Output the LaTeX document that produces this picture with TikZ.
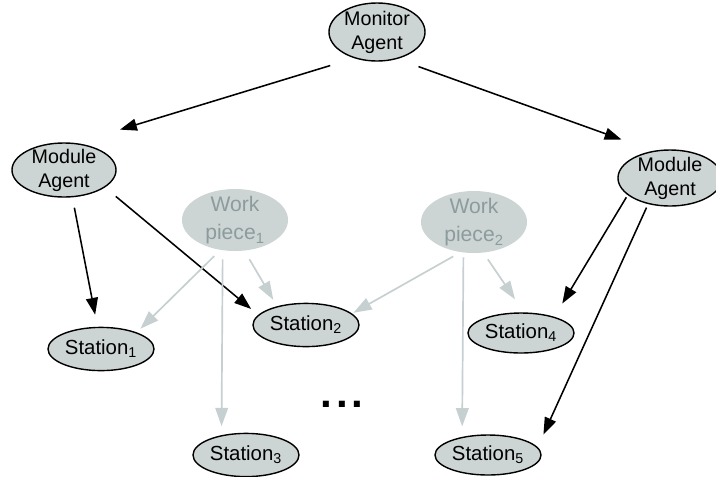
\documentclass[tikz,border=0pt]{standalone}
\usepackage{fontspec}
\setmainfont{Liberation Sans}
\usetikzlibrary{shapes.geometric}
\usetikzlibrary{arrows.meta}
\definecolor{nodefill}{RGB}{205,212,212}
\definecolor{piecetext}{RGB}{140,156,156}
\definecolor{flowcol}{RGB}{198,208,208}
\tikzset{agent/.style = {shape=ellipse,draw,fill=nodefill,line width=1pt,inner xsep=0pt,inner ysep=-2pt,align=center,font=\fontsize{14}{17}\selectfont}}
\tikzset{piece/.style = {shape=ellipse,fill=nodefill,inner xsep=0pt,inner ysep=-3pt,align=center,text=piecetext,font=\fontsize{15}{20.5}\selectfont,minimum width=2.65cm,minimum height=1.55cm}}
\tikzset{station/.style = {shape=ellipse,draw,fill=nodefill,line width=1pt,inner sep=0pt,font=\fontsize{14.5}{17}\selectfont,minimum width=2.65cm,minimum height=1.08cm}}
\tikzset{ctrl/.style = {-{Triangle[length=12pt,width=8.5pt]},line width=1.1pt}}
\tikzset{flow/.style = {-{Triangle[length=13pt,width=9pt]},line width=1.2pt,draw=flowcol}}

\begin{document}
\begin{tikzpicture}[x=0.025cm,y=-0.025cm]
                    \useasboundingbox (0,0) rectangle (716,476);

                    \node[agent,minimum width=2.4cm,minimum height=1.45cm] (Mon) at (377,32) {Monitor\\Agent};
                    \node[agent,minimum width=2.6cm,minimum height=1.35cm] (ModL) at (64,170) {Module\\Agent};
                    \node[agent,minimum width=2.6cm,minimum height=1.4cm] (ModR) at (670,178) {Module\\Agent};

                    \node[piece] (W1) at (235,220) {Work\\piece\textsubscript{1}};
                    \node[piece] (W2) at (474,222) {Work\\piece\textsubscript{2}};

                    \node[station] (S1) at (101,349) {Station\textsubscript{1}};
                    \node[station] (S2) at (306,325) {Station\textsubscript{2}};
                    \node[station] (S3) at (246,455) {Station\textsubscript{3}};
                    \node[station,minimum height=1cm] (S4) at (521,333) {Station\textsubscript{4}};
                    \node[station,minimum height=1cm] (S5) at (488,455) {Station\textsubscript{5}};

                    \node[anchor=base,font=\fontsize{30}{30}\selectfont\bfseries] (dots) at (342,407) {.\hspace{2.5pt}.\hspace{2.5pt}.};

                    \draw[ctrl,shorten <=17.8pt,shorten >=32.7pt] (Mon.229) -- (ModL.66);
                    \draw[ctrl,shorten <=16pt,shorten >=23.8pt] (Mon.307) -- (ModR.122);
                    \draw[ctrl,shorten <=7.5pt,shorten >=8.7pt] (ModL.287) -- (S1.99);
                    \draw[ctrl,shorten <=10pt,shorten >=6.5pt] (ModL.337) -- (S2.168);
                    \draw[ctrl,shorten <=1.8pt,shorten >=11pt] (ModR.202) -- (S4.26);
                    \draw[ctrl,shorten <=2.7pt,shorten >=9.9pt] (ModR.230) -- (S5.9);

                    \draw[flow,shorten <=6.1pt,shorten >=3.7pt] (W1.244) -- (S1.25);
                    \draw[flow,shorten <=7pt,shorten >=5.3pt] (W1.287) -- (S2.147);
                    \draw[flow,shorten <=6.3pt,shorten >=6.4pt] (W1.248) -- (S3.141);
                    \draw[flow,shorten <=6pt,shorten >=1.1pt] (W2.246) -- (S2.14);
                    \draw[flow,shorten <=5.6pt,shorten >=11.2pt] (W2.287) -- (S4.82);
                    \draw[flow,shorten <=3.3pt,shorten >=7.4pt] (W2.251) -- (S5.145);
                \end{tikzpicture}
\end{document}
